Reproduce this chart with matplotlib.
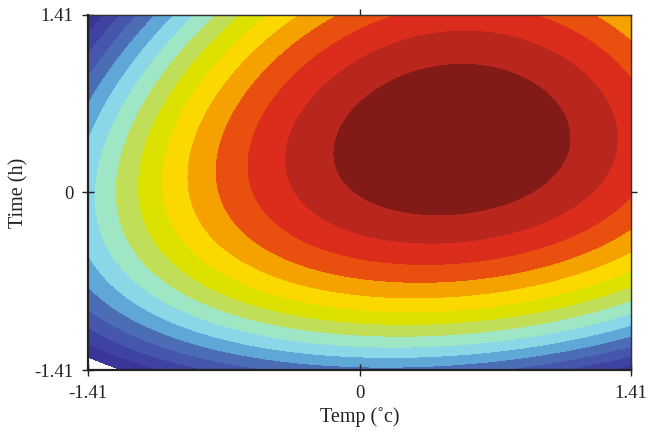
import numpy as np
import matplotlib
matplotlib.use("Agg")
import matplotlib.pyplot as plt

# coded factor range (Temp, Time)
coded_min = -1.41
coded_max = 1.41

# fitted response surface, expressed in contour-level units
# z = b0 + b1 x + b2 y + b11 x^2 + b22 y^2 + b12 xy + b111 x^3 + b222 y^3 + b112 x^2 y + b122 x y^2
b0 = 9.05
b1 = 2.2655
b2 = 2.0847
b11 = -2.6111
b22 = -3.2724
b12 = 1.0819
b111 = 0.0106
b222 = 0.3357
b112 = -0.4390
b122 = -0.1152

# contour levels and fill colours (low -> high)
levels = [-5, -4, -3, -2, -1, 0, 1, 2, 3, 4, 5, 6, 7, 8, 9, 40]
colors = ["#3a3599", "#3f42a1", "#4556ac", "#4a6db6", "#5fa7d6",
          "#8ad7e8", "#9fe6c4", "#c0de57", "#dce100", "#fad800", "#f5a100",
          "#e9500f", "#dc2c1c", "#b8261e", "#821b18"]

tick_vals = [-1.41, 0, 1.41]
tick_labels = ["-1.41", "0", "1.41"]

plt.rcParams['font.family'] = ['Liberation Serif', 'DejaVu Serif']

fig = plt.figure(figsize=(6.48, 4.32), dpi=100)
ax = fig.add_axes([0.1358, 0.1435, 0.838, 0.822])

g = np.linspace(coded_min, coded_max, 400)
X, Y = np.meshgrid(g, g)
Z = (b0 + b1 * X + b2 * Y + b11 * X ** 2 + b22 * Y ** 2 + b12 * X * Y
     + b111 * X ** 3 + b222 * Y ** 3 + b112 * X ** 2 * Y + b122 * X * Y ** 2)
ax.contourf(X, Y, Z, levels=levels, colors=colors)

ax.set_xlim(coded_min, coded_max)
ax.set_ylim(coded_min, coded_max)
ax.set_xticks(tick_vals)
ax.set_xticklabels(tick_labels)
ax.set_yticks(tick_vals)
ax.set_yticklabels(tick_labels)
ax.tick_params(direction="inout", length=9, width=1, labelsize=13.5, pad=6,
               colors="#222222")

for side in ["left", "bottom"]:
    ax.spines[side].set_linewidth(1.6)
    ax.spines[side].set_color("#222222")
for side in ["top", "right"]:
    ax.spines[side].set_linewidth(1.0)
    ax.spines[side].set_color("#333333")

# top and right only carry a centre tick
top = ax.secondary_xaxis("top")
top.set_xticks([0])
top.set_xticklabels([])
top.tick_params(direction="inout", length=9, width=1, colors="#222222")
right = ax.secondary_yaxis("right")
right.set_yticks([0])
right.set_yticklabels([])
right.tick_params(direction="inout", length=9, width=1, colors="#222222")

ax.set_xlabel("Temp (˚c)", fontsize=14.5, labelpad=4, color="#222222")
ax.set_ylabel("Time (h)", fontsize=14.5, labelpad=4, color="#222222")

fig.savefig("out.png")
